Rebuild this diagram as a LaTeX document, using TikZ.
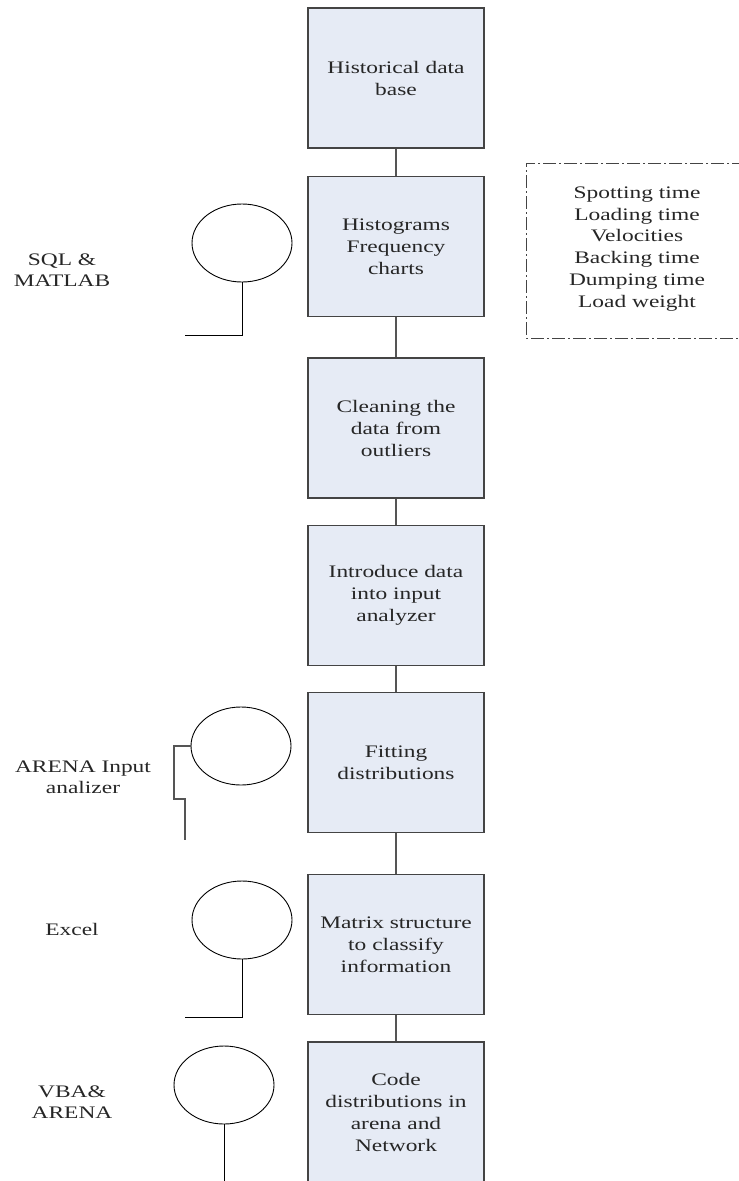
\documentclass[tikz,border=0pt]{standalone}
\usepackage{fontspec}
\setmainfont{Liberation Serif}[FakeStretch=1.33]
\usetikzlibrary{shapes.geometric}
\definecolor{boxfill}{HTML}{E6EBF5}
\definecolor{boxline}{HTML}{444444}
\definecolor{inktext}{HTML}{262626}
\definecolor{linkline}{HTML}{555555}
\tikzset{
  stepbox/.style={draw=boxline, line width=1.2pt, fill=boxfill,
    minimum width=176pt, minimum height=140pt, text width=166pt,
    align=center, inner sep=0pt, text=inktext,
    font=\fontsize{17.6}{22}\selectfont},
  toolnode/.style={ellipse, draw=black, line width=0.9pt,
    minimum width=100pt, minimum height=78pt, inner sep=0pt},
  toollabel/.style={align=center, text=inktext,
    font=\fontsize{17.6}{21}\selectfont},
  link/.style={draw=linkline, line width=1.3pt},
  toollink/.style={draw=black, line width=1pt},
  notebox/.style={draw=boxline, line width=1pt,
    dash pattern=on 13pt off 3pt on 2pt off 3pt},
}
\begin{document}
\begin{tikzpicture}[x=1pt, y=-1pt]
\useasboundingbox (0,0) rectangle (739,1181);
\clip (0,0) rectangle (739,1181);

% main process chain
\node[stepbox] (b1) at (396,78)    {Historical data\\base};
\node[stepbox] (b2) at (396,246.5) {Histograms\\Frequency\\charts};
\node[stepbox] (b3) at (396,428)   {Cleaning the\\data from\\outliers};
\node[stepbox] (b4) at (396,595.5) {Introduce data\\into input\\analyzer};
\node[stepbox] (b5) at (396,762.5) {Fitting\\distributions};
\node[stepbox] (b6) at (396,944.5) {Matrix structure\\to classify\\information};
\node[stepbox] (b7) at (396,1112)  {Code\\distributions in\\arena and\\Network};

\draw[link] (b1) -- (b2);
\draw[link] (b2) -- (b3);
\draw[link] (b3) -- (b4);
\draw[link] (b4) -- (b5);
\draw[link] (b5) -- (b6);
\draw[link] (b6) -- (b7);

% list of measured variables
\draw[notebox] (745,163) -- (526,163) -- (526,338) -- (745,338);
\node[toollabel, font=\fontsize{17.6}{21.9}\selectfont] (vars) at (637,249)
  {Spotting time\\Loading time\\Velocities\\Backing time\\Dumping time\\Load weight};

% tools used at each stage
\node[toolnode] (t1) at (242,243) {};
\node[toollabel] (l1) at (62,270) {SQL \&\\MATLAB};
\coordinate (t1a) at (242,335);
\coordinate (t1b) at (185,335);
\draw[toollink] (t1.south) -- (t1a) -- (t1b);

\node[toolnode] (t2) at (241,746) {};
\node[toollabel] (l2) at (83,777) {ARENA Input\\analizer};
\coordinate (t2a) at (174,746);
\coordinate (t2b) at (174,799);
\coordinate (t2c) at (185,799);
\coordinate (t2d) at (185,840);
\draw[toollink, draw=linkline, line width=1.3pt]
  (t2.west) -- (t2a) -- (t2b) -- (t2c) -- (t2d);

\node[toolnode] (t3) at (242,920) {};
\node[toollabel] (l3) at (72,929) {Excel};
\coordinate (t3a) at (242,1017);
\coordinate (t3b) at (185,1017);
\draw[toollink] (t3.south) -- (t3a) -- (t3b);

\node[toolnode] (t4) at (224,1085) {};
\node[toollabel] (l4) at (72,1102) {VBA\&\\ARENA};
\coordinate (t4a) at (224,1190);
\draw[toollink] (t4.south) -- (t4a);
\end{tikzpicture}
\end{document}
